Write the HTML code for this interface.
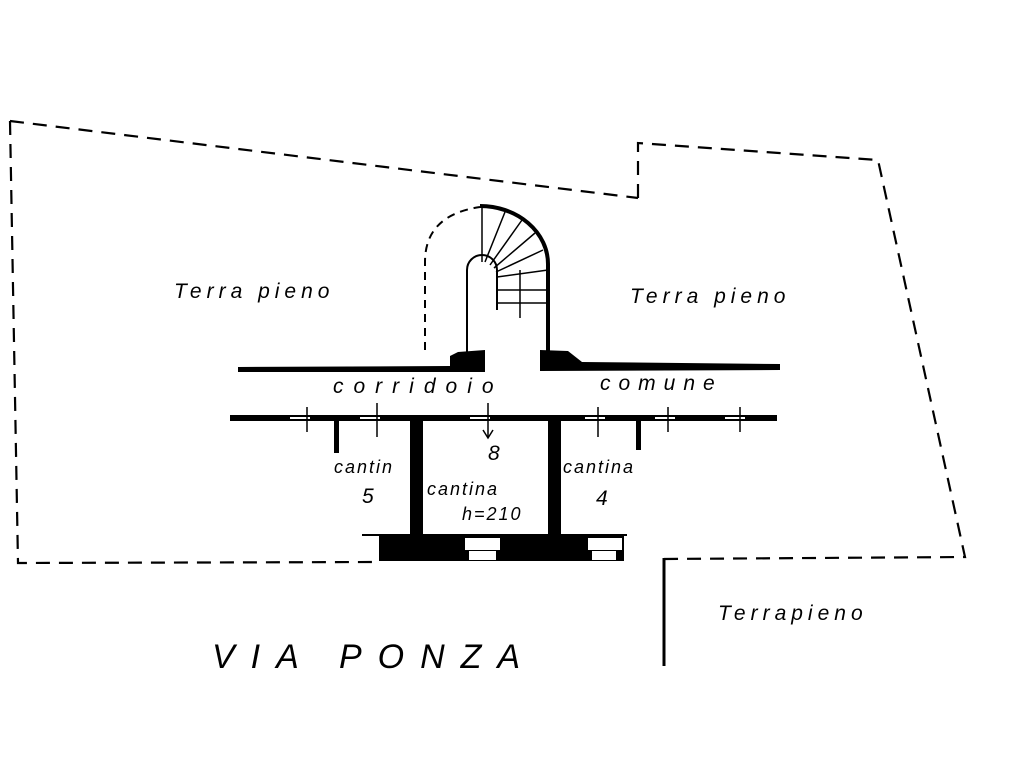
<!DOCTYPE html>
<html><head><meta charset="utf-8"><style>
html,body{margin:0;padding:0;background:#fff;}
svg{display:block}
text{font-family:"Liberation Sans",sans-serif;font-style:italic;fill:#000}
</style></head><body>
<svg width="1024" height="768" viewBox="0 0 1024 768" xmlns="http://www.w3.org/2000/svg">
<g fill="none" stroke="#000" stroke-width="2.2" stroke-dasharray="14,9">
<polyline points="10,121 638,198"/>
<polyline points="638,198 638,143 878,160 965,557 662,559"/>
<polyline points="10,121 18,563 380,562"/>
</g>
<line x1="664" y1="558" x2="664" y2="666" stroke="#000" stroke-width="3"/>
<path d="M425,350 L425,262 Q425,215 480,207" fill="none" stroke="#000" stroke-width="2" stroke-dasharray="8,6"/>
<path d="M480,206 A68,58 0 0 1 548,264 L548,356" fill="none" stroke="#000" stroke-width="4"/>
<path d="M467,356 L467,270 A15,15 0 0 1 497,270 L497,310" fill="none" stroke="#000" stroke-width="2"/>
<g stroke="#000" stroke-width="1.5">
<line x1="482" y1="208" x2="482" y2="262"/>
<line x1="485" y1="262" x2="505" y2="212"/>
<line x1="490" y1="265" x2="522" y2="220"/>
<line x1="494" y1="268" x2="535" y2="233"/>
<line x1="496" y1="272" x2="543" y2="250"/>
<line x1="497" y1="277" x2="548" y2="270"/>
<line x1="497" y1="290" x2="548" y2="290"/>
<line x1="497" y1="303" x2="548" y2="303"/>
<line x1="520" y1="270" x2="520" y2="318"/>
</g>
<path d="M238,367 L450,366 L450,356 L458,352 L485,350 L485,372 L238,372 Z" fill="#000"/>
<path d="M540,350 L568,351 L582,362 L780,364 L780,370 L540,371 Z" fill="#000"/>
<rect x="230" y="415" width="547" height="6" fill="#000"/>
<g fill="#fff"><rect x="290" y="417" width="20" height="2"/><rect x="360" y="417" width="20" height="2"/><rect x="470" y="417" width="20" height="2"/><rect x="585" y="417" width="20" height="2"/><rect x="655" y="417" width="20" height="2"/><rect x="725" y="417" width="20" height="2"/></g>
<g stroke="#000" stroke-width="1.5">
<line x1="307" y1="407" x2="307" y2="432"/><line x1="377" y1="403" x2="377" y2="437"/>
<line x1="598" y1="407" x2="598" y2="437"/><line x1="668" y1="407" x2="668" y2="432"/><line x1="740" y1="407" x2="740" y2="432"/>
<line x1="488" y1="403" x2="488" y2="437"/><path d="M483,430 L488,438 L493,430" fill="none"/>
</g>
<rect x="334" y="420" width="5" height="33" fill="#000"/>
<rect x="636" y="420" width="5" height="30" fill="#000"/>
<rect x="410" y="419" width="13" height="117" fill="#000"/>
<rect x="548" y="419" width="13" height="117" fill="#000"/>
<line x1="362" y1="535" x2="627" y2="535" stroke="#000" stroke-width="2"/>
<rect x="379" y="535" width="245" height="26" fill="#000"/>
<rect x="465" y="538" width="35" height="12" fill="#fff"/><rect x="469" y="551" width="27" height="9" fill="#fff"/>
<rect x="588" y="538" width="34" height="12" fill="#fff"/><rect x="592" y="551" width="24" height="9" fill="#fff"/>
<g font-size="21" letter-spacing="5">
<text x="174" y="298">Terra pieno</text>
<text x="630" y="303">Terra pieno</text>
<text x="718" y="620">Terrapieno</text>
<text x="333" y="393" letter-spacing="10">corridoio</text>
<text x="600" y="390" letter-spacing="8">comune</text>
</g>
<text x="488" y="460" font-size="21" font-style="normal">8</text>
<g font-size="18" letter-spacing="2">
<text x="334" y="473">cantin</text>
<text x="427" y="495">cantina</text>
<text x="462" y="520">h=210</text>
<text x="563" y="473">cantina</text>
</g>
<text x="362" y="503" font-size="21">5</text>
<text x="596" y="505" font-size="21">4</text>
<text x="212" y="668" font-size="34" letter-spacing="16">VIA  PONZA</text>
</svg>
</body></html>
